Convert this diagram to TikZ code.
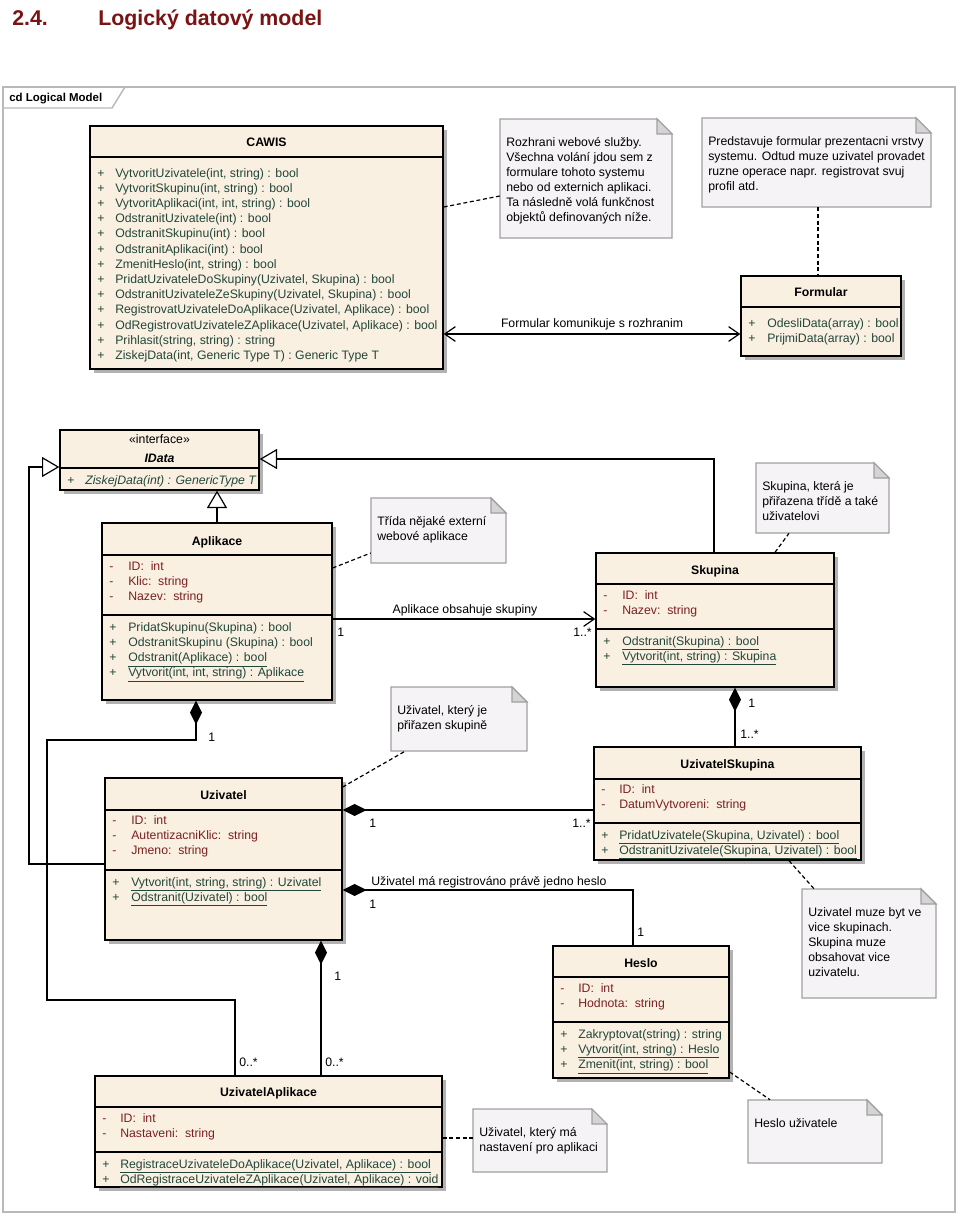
\documentclass[tikz,border=0pt]{standalone}
\usepackage{fontspec}
\setmainfont{Liberation Sans}
\usetikzlibrary{arrows.meta,fit}
\definecolor{cls}{RGB}{250,240,226}
\definecolor{shd}{RGB}{178,178,178}
\definecolor{attrc}{RGB}{122,32,32}
\definecolor{methc}{RGB}{34,70,58}
\definecolor{notef}{RGB}{246,243,246}
\definecolor{noteb}{RGB}{160,160,160}
\definecolor{foldc}{RGB}{212,212,212}
\definecolor{ttl}{RGB}{122,20,20}
\definecolor{frm}{RGB}{185,185,185}
\tikzset{
  txt/.style={font=\fontsize{9.2}{11}\selectfont, inner sep=0pt},
  hdr/.style={font=\fontsize{9.2}{11}\selectfont\bfseries, inner sep=0pt, anchor=base},
  sepline/.style={line width=0.9pt},
  conn/.style={line width=0.9pt},
  dashconn/.style={line width=0.9pt, dash pattern=on 3pt off 2pt},
  openarr/.tip={Straight Barb[length=8pt,width=11pt,line width=0.9pt]},
  gentip/.tip={Triangle[open,length=13pt,width=15pt,fill=white,line width=0.9pt]},
  comptip/.tip={Diamond[length=18pt,width=9pt]},
}
\newcommand\umlclass[5]{%
  \fill[shd] ({#2+4},{#3+4}) rectangle ({#4+4},{#5+4});
  \node[fit={(#2,#3)(#4,#5)}, inner sep=0pt, draw, fill=cls, line width=1pt] (#1) {};}
\newcommand\csep[2]{\draw[sepline] (#1.west |- 0,#2) -- (#1.east |- 0,#2);}
% prefix, x, first baseline, sign, style, list
\newcommand\rows[6]{%
  \foreach \t [count=\i from 0] in {#6} {%
    \node[txt,#5,anchor=base west] (#1s\i) at ({#2},{#3+\i*15.2}) {#4};}}
\newcommand\rowtext[5]{%
  \foreach \t [count=\i from 0] in {#5} {%
    \node[txt,#4,anchor=base west] (#1t\i) at ({#2},{#3+\i*15.2}) {\t};}}
\newcommand\umlnote[6]{%
  \node[fit={(#2,#3)(#4,#5)}, inner sep=0pt] (#1) {};
  \filldraw[fill=notef, draw=noteb, line width=0.8pt] (#2,#3) -- ({#4-15},#3) -- (#4,{#3+15}) -- (#4,#5) -- (#2,#5) -- cycle;
  \filldraw[fill=foldc, draw=noteb, line width=0.8pt] ({#4-15},#3) -- ({#4-15},{#3+15}) -- (#4,{#3+15}) -- cycle;
  \foreach \t [count=\i from 0] in {#6} {%
    \node[txt, anchor=base west] (#1l\i) at ({#2+6},{#3+27+\i*15}) {\t};}}
\begin{document}
\begin{tikzpicture}[x=0.75pt,y=-0.75pt]
\useasboundingbox (0,0) rectangle (960,1217);
\fill[white] (0,0) rectangle (960,1217);
% title
\node[font=\fontsize{16}{18}\selectfont\bfseries, text=ttl, inner sep=0pt, anchor=base west] (tnum) at (12,25) {2.4.};
\node[font=\fontsize{16}{18}\selectfont\bfseries, text=ttl, inner sep=0pt, anchor=base west] (tname) at (98,25) {Logický datový model};
% frame
\draw[frm, line width=1.1pt] (3,87) rectangle (955,1212);
\draw[frm, line width=1.1pt] (3,108) -- (112,108) -- (125,87);
\node[font=\fontsize{8.6}{10}\selectfont\bfseries, inner sep=0pt, anchor=base west] (frmlbl) at (9,101) {cd Logical Model};

% ===== CAWIS =====
\umlclass{cawis}{90}{126}{443}{369}
\csep{cawis}{157}
\node[hdr] (cawish) at (266.5,146) {CAWIS};
\rows{cawis}{97}{177}{+}{text=methc}{1,2,3,4,5,6,7,8,9,10,11,12,13}
\rowtext{cawis}{115}{177}{text=methc}{{VytvoritUzivatele(int, string) : bool},{VytvoritSkupinu(int, string) : bool},{VytvoritAplikaci(int, int, string) : bool},{OdstranitUzivatele(int) : bool},{OdstranitSkupinu(int) : bool},{OdstranitAplikaci(int) : bool},{ZmenitHeslo(int, string) : bool},{PridatUzivateleDoSkupiny(Uzivatel, Skupina) : bool},{OdstranitUzivateleZeSkupiny(Uzivatel, Skupina) : bool},{RegistrovatUzivateleDoAplikace(Uzivatel, Aplikace) : bool},{OdRegistrovatUzivateleZAplikace(Uzivatel, Aplikace) : bool},{Prihlasit(string, string) : string},{ZiskejData(int, Generic Type T) : Generic Type T}}

% ===== Formular =====
\umlclass{formular}{741}{276}{901}{356}
\csep{formular}{307}
\node[hdr] (formularh) at (821,296) {Formular};
\rows{formular}{748}{327}{+}{text=methc}{1,2}
\rowtext{formular}{767}{327}{text=methc}{{OdesliData(array) : bool},{PrijmiData(array) : bool}}

% ===== IData =====
\umlclass{idata}{60}{430}{259}{490}
\csep{idata}{468}
\node[txt, anchor=base] (idatas) at (159.5,443) {«interface»};
\node[hdr, font=\fontsize{9.2}{11}\selectfont\bfseries\itshape] (idatah) at (159.5,462) {IData};
\rows{idata}{67}{484}{+}{text=methc}{1}
\rowtext{idata}{85}{484}{text=methc,font=\fontsize{9.2}{11}\selectfont\itshape}{{ZiskejData(int) : GenericType T}}

% ===== Aplikace =====
\umlclass{aplikace}{102}{523}{332}{700}
\csep{aplikace}{555}
\csep{aplikace}{615}
\node[hdr] (aplikaceh) at (217,545) {Aplikace};
\rows{aplikacea}{109}{570}{-}{text=attrc}{1,2,3}
\rowtext{aplikacea}{128}{570}{text=attrc}{{ID:\ \ int},{Klic:\ \ string},{Nazev:\ \ string}}
\rows{aplikacem}{109}{631}{+}{text=methc}{1,2,3,4}
\rowtext{aplikacem}{128}{631}{text=methc}{{PridatSkupinu(Skupina) : bool},{OdstranitSkupinu (Skupina) : bool},{\underline{Odstranit(Aplikace) : bool}},{\underline{Vytvorit(int, int, string) : Aplikace}}}

% ===== Skupina =====
\umlclass{skupina}{596}{553}{834}{687}
\csep{skupina}{584}
\csep{skupina}{629}
\node[hdr] (skupinah) at (715,574) {Skupina};
\rows{skupinaa}{603}{599}{-}{text=attrc}{1,2}
\rowtext{skupinaa}{622}{599}{text=attrc}{{ID:\ \ int},{Nazev:\ \ string}}
\rows{skupinam}{603}{645}{+}{text=methc}{1,2}
\rowtext{skupinam}{622}{645}{text=methc}{{\underline{Odstranit(Skupina) : bool}},{\underline{Vytvorit(int, string) : Skupina}}}

% ===== UzivatelSkupina =====
\umlclass{uzsk}{594}{747}{861}{860}
\csep{uzsk}{779}
\csep{uzsk}{823}
\node[hdr] (uzskh) at (727.5,768) {UzivatelSkupina};
\rows{uzska}{601}{793}{-}{text=attrc}{1,2}
\rowtext{uzska}{619}{793}{text=attrc}{{ID:\ \ int},{DatumVytvoreni:\ \ string}}
\rows{uzskm}{601}{839}{+}{text=methc}{1,2}
\rowtext{uzskm}{619}{839}{text=methc}{{\underline{PridatUzivatele(Skupina, Uzivatel) : bool}},{\underline{OdstranitUzivatele(Skupina, Uzivatel) : bool}}}

% ===== Uzivatel =====
\umlclass{uzivatel}{105}{778}{342}{940}
\csep{uzivatel}{810}
\csep{uzivatel}{870}
\node[hdr] (uzivatelh) at (223.5,799) {Uzivatel};
\rows{uzivatela}{112}{824}{-}{text=attrc}{1,2,3}
\rowtext{uzivatela}{131}{824}{text=attrc}{{ID:\ \ int},{AutentizacniKlic:\ \ string},{Jmeno:\ \ string}}
\rows{uzivatelm}{112}{886}{+}{text=methc}{1,2}
\rowtext{uzivatelm}{131}{886}{text=methc}{{\underline{Vytvorit(int, string, string) : Uzivatel}},{\underline{Odstranit(Uzivatel) : bool}}}

% ===== Heslo =====
\umlclass{heslo}{553}{946}{729}{1078}
\csep{heslo}{977}
\csep{heslo}{1022}
\node[hdr] (hesloh) at (641,967) {Heslo};
\rows{heslaa}{560}{992}{-}{text=attrc}{1,2}
\rowtext{heslaa}{578}{992}{text=attrc}{{ID:\ \ int},{Hodnota:\ \ string}}
\rows{heslam}{560}{1038}{+}{text=methc}{1,2,3}
\rowtext{heslam}{578}{1038}{text=methc}{{Zakryptovat(string) : string},{\underline{Vytvorit(int, string) : Heslo}},{\underline{Zmenit(int, string) : bool}}}

% ===== UzivatelAplikace =====
\umlclass{uzap}{95}{1076}{442}{1187}
\csep{uzap}{1107}
\csep{uzap}{1152}
\node[hdr] (uzaph) at (268.5,1096) {UzivatelAplikace};
\rows{uzapa}{102}{1122}{-}{text=attrc}{1,2}
\rowtext{uzapa}{120}{1122}{text=attrc}{{ID:\ \ int},{Nastaveni:\ \ string}}
\rows{uzapm}{102}{1168}{+}{text=methc}{1,2}
\rowtext{uzapm}{120}{1168}{text=methc}{{\underline{RegistraceUzivateleDoAplikace(Uzivatel, Aplikace) : bool}},{\underline{OdRegistraceUzivateleZAplikace(Uzivatel, Aplikace) : void}}}

% ===== Notes =====
\umlnote{nrozh}{500}{119}{672}{238}{{Rozhrani webové služby.},{Všechna volání jdou sem z},{formulare tohoto systemu},{nebo od externich aplikaci.},{Ta následně volá funkčnost},{objektů definovaných níže.}}
\umlnote{nform}{702}{118}{931}{207}{{Predstavuje formular prezentacni vrstvy},{systemu. Odtud muze uzivatel provadet},{ruzne operace napr. registrovat svuj},{profil atd.}}
\umlnote{ntrida}{371}{498}{506}{563}{{Třída nějaké externí},{webové aplikace}}
\umlnote{nskup}{756}{463}{889}{533}{{Skupina, která je},{přiřazena třídě a také},{uživatelovi}}
\umlnote{nuzpr}{391}{687}{527}{751}{{Uživatel, který je},{přiřazen skupině}}
\umlnote{nuzvic}{802}{889}{936}{998}{{Uzivatel muze byt ve},{vice skupinach.},{Skupina muze},{obsahovat vice},{uzivatelu.}}
\umlnote{nheslo}{748}{1100}{882}{1163}{{Heslo uživatele}}
\umlnote{nuzap}{473}{1109}{607}{1172}{{Uživatel, který má},{nastavení pro aplikaci}}

% ===== Dashed note links =====
\draw[dashconn] (cawis.east |- 0,207) -- (nrozh.west |- 0,196);
\draw[dashconn] (nform.south -| 818,0) -- (formular.north -| 818,0);
\draw[dashconn] (aplikace.east |- 0,568) -- (ntrida.west |- 0,553);
\draw[dashconn] (skupina.north -| 775,0) -- (nskup.south -| 789,0);
\draw[dashconn] (uzivatel.east |- 0,787) -- (nuzpr.south -| 405,0);
\draw[dashconn] (uzsk.south -| 789,0) -- (nuzvic.north -| 814,0);
\draw[dashconn] (heslo.east |- 0,1072) -- (nheslo.north -| 770,0);
\draw[dashconn] (uzap.east |- 0,1138) -- (nuzap.west |- 0,1138);

% ===== Associations =====
\draw[conn, openarr-openarr] (cawis.east |- 0,334) -- (formular.west |- 0,334);
\node[txt, anchor=base] (lblform) at (592,327) {Formular komunikuje s rozhranim};

\draw[conn, -openarr] (aplikace.east |- 0,619) -- (skupina.west |- 0,619);
\node[txt, anchor=base] (lblapl) at (465,613) {Aplikace obsahuje skupiny};
\node[txt, anchor=base west] (m1) at (337,636) {1};
\node[txt, anchor=base east] (m2) at (592,636) {1..*};

% generalizations
\draw[conn, -gentip] (aplikace.north -| 217,0) -- (idata.south -| 217,0);
\draw[conn, -gentip] (skupina.north -| 714,0) |- (idata.east |- 0,459);
\draw[conn, -gentip] (uzivatel.west |- 0,864) -| (29,467) -- (idata.west |- 0,467);

% compositions
\draw[conn, comptip-] (skupina.south -| 735,0) -- (uzsk.north -| 735,0);
\node[txt, anchor=base west] (m3) at (748,707) {1};
\node[txt, anchor=base west] (m4) at (740,738) {1..*};

\draw[conn, comptip-] (uzivatel.east |- 0,810) -- (uzsk.west |- 0,810);
\node[txt, anchor=base west] (m5) at (369,827) {1};
\node[txt, anchor=base east] (m6) at (591,827) {1..*};

\draw[conn, comptip-] (uzivatel.east |- 0,890) -| (heslo.north -| 633,0);
\node[txt, anchor=base west] (lblheslo) at (371,885) {Uživatel má registrováno právě jedno heslo};
\node[txt, anchor=base west] (m7) at (369,908) {1};
\node[txt, anchor=base west] (m8) at (637,936) {1};

\draw[conn, comptip-] (aplikace.south -| 196,0) |- (47,740) |- (235,1000) -- (uzap.north -| 235,0);
\node[txt, anchor=base west] (m9) at (208,741) {1};
\node[txt, anchor=base west] (m10) at (239,1066) {0..*};

\draw[conn, comptip-] (uzivatel.south -| 321,0) -- (uzap.north -| 321,0);
\node[txt, anchor=base west] (m11) at (334,980) {1};
\node[txt, anchor=base west] (m12) at (325,1066) {0..*};
\end{tikzpicture}
\end{document}
